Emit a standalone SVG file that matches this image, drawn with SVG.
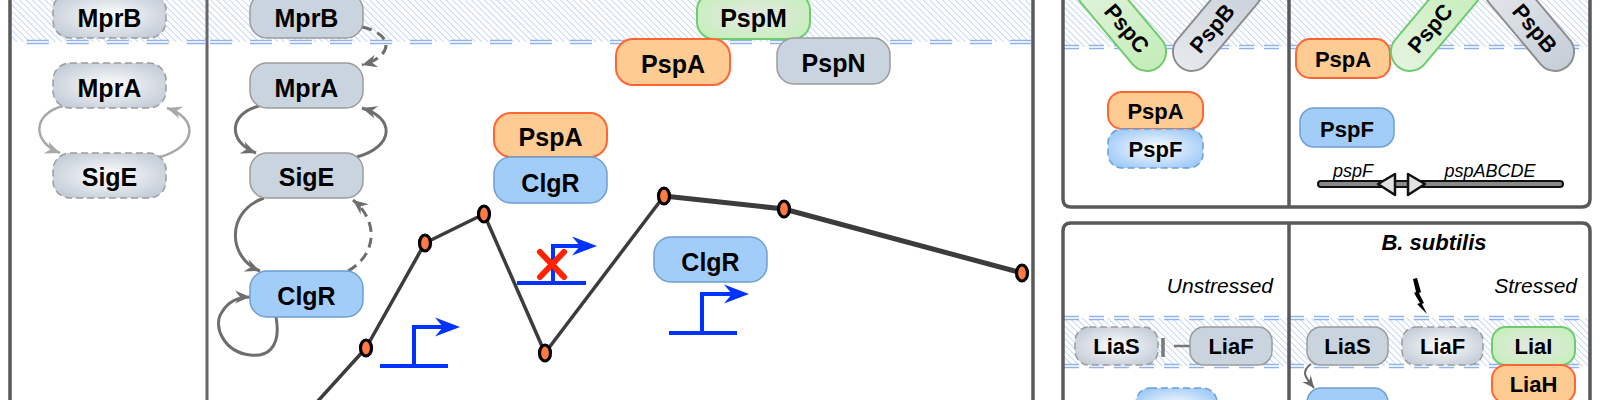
<svg xmlns="http://www.w3.org/2000/svg" width="1600" height="400" viewBox="0 0 1600 400">
<style>
text{font-family:"Liberation Sans",Arial,sans-serif;fill:#000}
.t{font-size:25px;font-weight:bold;text-anchor:middle}
.ts{font-size:22px;font-weight:bold;text-anchor:middle}
.gs{fill:#cad4df;stroke:#9c9c9c;stroke-width:1.5}
.gd{fill:url(#rg);stroke:#9c9c9c;stroke-width:1.5;stroke-dasharray:7 4}
.bs{fill:#a3cdf9;stroke:#6e9fd3;stroke-width:1.5}
.bd{fill:url(#rb);stroke:#6e9fd3;stroke-width:1.5;stroke-dasharray:7 4}
.os{fill:#fecb93;stroke:#ff6633;stroke-width:2}
.gr{fill:url(#rgr);stroke:#6dcc6d;stroke-width:2}
.grl{fill:url(#lgr);stroke:#6dcc6d;stroke-width:2}
.gyl{fill:url(#lgy);stroke:#8e8e8e;stroke-width:2}
.frame{fill:none;stroke:#595959;stroke-width:3.5}
.div{fill:none;stroke:#666;stroke-width:3}
.mem1{fill:none;stroke:#8fb2ee;stroke-width:4.5}
.mem2{fill:none;stroke:#e8effc;stroke-width:2}
.al{fill:none;stroke:#a8a8a8;stroke-width:2.5}
.ad{fill:none;stroke:#6e6e6e;stroke-width:3}
.dash{stroke-dasharray:10 6}
.curve{fill:none;stroke:#3c3c3c;stroke-linejoin:round;stroke-linecap:round}
.dot{fill:#ff7a45;stroke:#000;stroke-width:3.2}
.prom{fill:none;stroke:#0033ff;stroke-width:4}
.ph{fill:#0033ff}
.it{font-style:italic}
</style>
<defs>
<pattern id="hatch" patternUnits="userSpaceOnUse" width="4.5" height="4.5" patternTransform="rotate(-45)">
<rect width="4.5" height="4.5" fill="#fff"/>
<line x1="0" y1="0" x2="0" y2="4.5" stroke="#a9c3ee" stroke-width="1.3"/>
</pattern>
<radialGradient id="rg" cx="0.5" cy="0.5" r="0.6"><stop offset="0" stop-color="#ffffff"/><stop offset="1" stop-color="#c2cbd6"/></radialGradient>
<radialGradient id="rb" cx="0.5" cy="0.5" r="0.6"><stop offset="0" stop-color="#ffffff"/><stop offset="1" stop-color="#9cc8f7"/></radialGradient>
<radialGradient id="rgr" cx="0.5" cy="0.5" r="0.6"><stop offset="0" stop-color="#e6e8e3"/><stop offset="1" stop-color="#c6efbc"/></radialGradient>
<linearGradient id="lgr" x1="0" y1="0" x2="1" y2="0"><stop offset="0" stop-color="#e4f3df"/><stop offset="1" stop-color="#c3edb8"/></linearGradient>
<linearGradient id="lgy" x1="0" y1="0" x2="1" y2="0"><stop offset="0" stop-color="#e6e9ed"/><stop offset="1" stop-color="#c6ced8"/></linearGradient>
<marker id="mL" viewBox="-16 -8 18 16" refX="0" refY="0" markerWidth="18" markerHeight="16" markerUnits="userSpaceOnUse" orient="auto"><path d="M0,0 L-15,-6.5 L-10,0 L-15,6.5 z" fill="#a8a8a8"/></marker>
<marker id="mD" viewBox="-16 -8 18 16" refX="0" refY="0" markerWidth="18" markerHeight="16" markerUnits="userSpaceOnUse" orient="auto"><path d="M0,0 L-15,-6.5 L-10,0 L-15,6.5 z" fill="#6e6e6e"/></marker>
<marker id="mS" viewBox="-14 -7 16 14" refX="0" refY="0" markerWidth="16" markerHeight="14" markerUnits="userSpaceOnUse" orient="auto"><path d="M0,0 L-12,-5.5 L-8,0 L-12,5.5 z" fill="#666"/></marker>
</defs>

<rect width="1600" height="400" fill="#fff"/>

<g id="membranes">
<rect x="12" y="0" width="1019" height="42" fill="url(#hatch)"/>
<path class="mem1" d="M12,42 H205" stroke-dasharray="22 18" stroke-dashoffset="25.3"/>
<path class="mem2" d="M12,42 H205" stroke-dasharray="22 18" stroke-dashoffset="25.3"/>
<path class="mem1" d="M210,42 H1031" stroke-dasharray="22 18"/>
<path class="mem2" d="M210,42 H1031" stroke-dasharray="22 18"/>
<rect x="1064" y="0" width="525" height="47" fill="url(#hatch)"/>
<path class="mem1" d="M1064,47 H1589" stroke-dasharray="15 10"/>
<path class="mem2" d="M1064,47 H1589" stroke-dasharray="15 10"/>
<rect x="1064" y="318" width="525" height="48" fill="url(#hatch)"/>
<path class="mem1" d="M1064,318 H1589 M1064,366 H1589" stroke-dasharray="15 10"/>
<path class="mem2" d="M1064,318 H1589 M1064,366 H1589" stroke-dasharray="15 10"/>
</g>

<g id="frames">
<path class="frame" d="M10,0 V400"/>
<path class="div" d="M207,0 V400"/>
<path class="frame" d="M1033,0 V400"/>
<path class="frame" d="M1063,0 V199 Q1063,207 1071,207 H1582 Q1590,207 1590,199 V0"/>
<path class="frame" d="M1289,0 V207"/>
<path class="frame" d="M1063,402 V231 Q1063,223 1071,223 H1582 Q1590,223 1590,231 V402"/>
<path class="frame" d="M1289,223 V402"/>
</g>

<g id="curve">
<polyline class="curve" stroke-width="3.5" points="308,412 366,348 425,243 484,214 545,353 664,196"/>
<polyline class="curve" stroke-width="5" points="664,196 784,209 1022,273"/>
<ellipse class="dot" cx="366" cy="348" rx="5.5" ry="8"/>
<ellipse class="dot" cx="425" cy="243" rx="5.5" ry="8"/>
<ellipse class="dot" cx="484" cy="214" rx="5.5" ry="8"/>
<ellipse class="dot" cx="545" cy="353" rx="5.5" ry="8"/>
<ellipse class="dot" cx="664" cy="196" rx="5.5" ry="8"/>
<ellipse class="dot" cx="784" cy="209" rx="5.5" ry="8"/>
<ellipse class="dot" cx="1022" cy="273" rx="5.5" ry="8"/>
</g>

<g id="promoters">
<path class="prom" d="M380,366 H448 M414,366 V327 H450"/>
<path class="ph" d="M460,327 L435,317.5 L443,327 L435,336.5 z"/>
<path class="prom" d="M517,283 H586 M553,283 V246 H587"/>
<path class="ph" d="M597,246 L572,236.5 L580,246 L572,255.5 z"/>
<path class="prom" d="M669,333 H737 M702,333 V294 H739"/>
<path class="ph" d="M749,294 L724,284.5 L732,294 L724,303.5 z"/>
<path d="M540,252 L564,277 M564,252 L540,277" stroke="#ff2200" stroke-width="6" stroke-linecap="round" fill="none"/>
</g>

<g id="connectors">
<path class="al" d="M63,106 C32,114 32,142 60,153" marker-end="url(#mL)"/>
<path class="al" d="M160,157 C198,146 198,118 167,108" marker-end="url(#mL)"/>
<path class="ad dash" d="M362,27 C394,34 394,56 362,65" marker-end="url(#mD)"/>
<path class="ad" d="M259,106 C228,114 228,142 256,153" marker-end="url(#mD)"/>
<path class="ad" d="M357,157 C395,146 395,118 362,108" marker-end="url(#mD)"/>
<path class="ad" d="M264,198 C225,212 228,258 260,271" marker-end="url(#mD)"/>
<path class="ad dash" d="M348,271 C378,254 378,220 353,200" marker-end="url(#mD)"/>
<path class="ad" d="M276,317 C282,350 265,357 250,355 C224,352 212,326 222,312 C228,302 238,297 250,297" marker-end="url(#mD)"/>
<path d="M1311,364 C1300,372 1306,378 1314,388" fill="none" stroke="#666" stroke-width="2" marker-end="url(#mS)"/>
<path d="M1163,338 V357" stroke="#777" stroke-width="3.5" fill="none"/>
<path d="M1174,346 H1190" stroke="#777" stroke-width="2.5" fill="none"/>
</g>

<g id="left-MprB"><rect class="gd" x="53" y="-7" width="113" height="45" rx="17"/><text class="t" x="109.5" y="26.5">MprB</text></g>
<g id="left-MprA"><rect class="gd" x="53" y="63" width="113" height="45" rx="17"/><text class="t" x="109.5" y="96.5">MprA</text></g>
<g id="left-SigE"><rect class="gd" x="53" y="153" width="113" height="45" rx="17"/><text class="t" x="109.5" y="186">SigE</text></g>

<g id="mid-MprB"><rect class="gs" x="250" y="-7" width="113" height="45" rx="17"/><text class="t" x="306.5" y="26.5">MprB</text></g>
<g id="mid-MprA"><rect class="gs" x="250" y="63" width="113" height="45" rx="17"/><text class="t" x="306.5" y="96.5">MprA</text></g>
<g id="mid-SigE"><rect class="gs" x="250" y="153" width="113" height="45" rx="17"/><text class="t" x="306.5" y="186">SigE</text></g>
<g id="mid-ClgR"><rect class="bs" x="250" y="271" width="113" height="46" rx="17"/><text class="t" x="306.5" y="305">ClgR</text></g>

<g id="PspM"><rect class="gr" x="697" y="-7" width="113" height="46" rx="17"/><text class="t" x="753.5" y="27">PspM</text></g>
<g id="PspA-top"><rect class="os" x="616" y="39" width="114" height="46" rx="17"/><text class="t" x="673" y="73">PspA</text></g>
<g id="PspN"><rect class="gs" x="777" y="38" width="113" height="46" rx="17"/><text class="t" x="833.5" y="72">PspN</text></g>
<g id="PspA-mid"><rect class="os" x="494" y="113" width="113" height="44" rx="17"/><text class="t" x="550.5" y="146">PspA</text></g>
<g id="ClgR-mid"><rect class="bs" x="494" y="157" width="113" height="46" rx="17"/><text class="t" x="550.5" y="191.5">ClgR</text></g>
<g id="ClgR-right"><rect class="bs" x="654" y="237" width="113" height="45" rx="17"/><text class="t" x="710.5" y="270.5">ClgR</text></g>

<g id="TR1-PspC" transform="translate(1122,22) rotate(50)"><rect class="grl" x="-60" y="-19" width="118" height="38" rx="19"/><text class="ts" x="8" y="8">PspC</text></g>
<g id="TR1-PspB" transform="translate(1217,22) rotate(-50)"><rect class="gyl" x="-58" y="-19" width="118" height="38" rx="19"/><text class="ts" x="-8" y="8">PspB</text></g>
<g id="TR1-PspA"><rect class="os" x="1108" y="92" width="95" height="37" rx="14"/><text class="ts" x="1155.5" y="118.5">PspA</text></g>
<g id="TR1-PspF"><rect class="bd" x="1108" y="129" width="95" height="39" rx="14"/><text class="ts" x="1155.5" y="157">PspF</text></g>

<g id="TR2-PspA"><rect class="os" x="1296" y="39" width="94" height="39" rx="14"/><text class="ts" x="1343" y="67">PspA</text></g>
<g id="TR2-PspC" transform="translate(1435,22) rotate(-50)"><rect class="grl" x="-58" y="-19" width="118" height="38" rx="19"/><text class="ts" x="-8" y="8">PspC</text></g>
<g id="TR2-PspB" transform="translate(1530,22) rotate(50)"><rect class="gyl" x="-60" y="-19" width="118" height="38" rx="19"/><text class="ts" x="8" y="8">PspB</text></g>
<g id="TR2-PspF"><rect class="bs" x="1300" y="108" width="94" height="39" rx="14"/><text class="ts" x="1347" y="137">PspF</text></g>
<g id="operon">
<rect x="1318" y="181" width="245" height="6" rx="3" fill="#8a8a8a" stroke="#111" stroke-width="2"/>
<path d="M1378,184 L1395,174 L1395,195 z" fill="#e2e2e2" stroke="#111" stroke-width="2.5" stroke-linejoin="round"/>
<path d="M1425,184 L1408,174 L1408,195 z" fill="#e2e2e2" stroke="#111" stroke-width="2.5" stroke-linejoin="round"/>
<text class="it" x="1353" y="177" font-size="18" text-anchor="middle">pspF</text>
<text class="it" x="1490" y="177" font-size="18" text-anchor="middle">pspABCDE</text>
</g>

<g id="labels">
<text x="1434" y="250" font-size="22" font-weight="bold" font-style="italic" text-anchor="middle">B. subtilis</text>
<text class="it" x="1273" y="293" font-size="21" text-anchor="end" fill="#111">Unstressed</text>
<text class="it" x="1577" y="293" font-size="21" text-anchor="end" fill="#111">Stressed</text>
<path d="M1413,279 L1417,278 L1421,292 L1419,293 L1424,303 L1422,304 L1427,314 L1417,304 L1420,303 L1414,293 L1416,292 z" fill="#000"/>
</g>

<g id="BR1-LiaS"><rect class="gd" x="1075" y="327" width="83" height="38" rx="14"/><text class="ts" x="1116.5" y="354">LiaS</text></g>
<g id="BR1-LiaF"><rect class="gs" x="1190" y="327" width="82" height="38" rx="14"/><text class="ts" x="1231" y="354">LiaF</text></g>
<g id="BR1-LiaR"><rect class="bd" x="1136" y="388" width="81" height="38" rx="14"/></g>

<g id="BR2-LiaS"><rect class="gs" x="1307" y="327" width="81" height="38" rx="14"/><text class="ts" x="1347.5" y="354">LiaS</text></g>
<g id="BR2-LiaF"><rect class="gd" x="1402" y="327" width="81" height="38" rx="14"/><text class="ts" x="1442.5" y="354">LiaF</text></g>
<g id="BR2-LiaI"><rect class="gr" x="1492" y="327" width="83" height="38" rx="14"/><text class="ts" x="1533.5" y="354">LiaI</text></g>
<g id="BR2-LiaH"><rect class="os" x="1492" y="365" width="83" height="38" rx="14"/><text class="ts" x="1533.5" y="392">LiaH</text></g>
<g id="BR2-LiaR"><rect class="bs" x="1307" y="388" width="81" height="38" rx="14"/></g>
</svg>
